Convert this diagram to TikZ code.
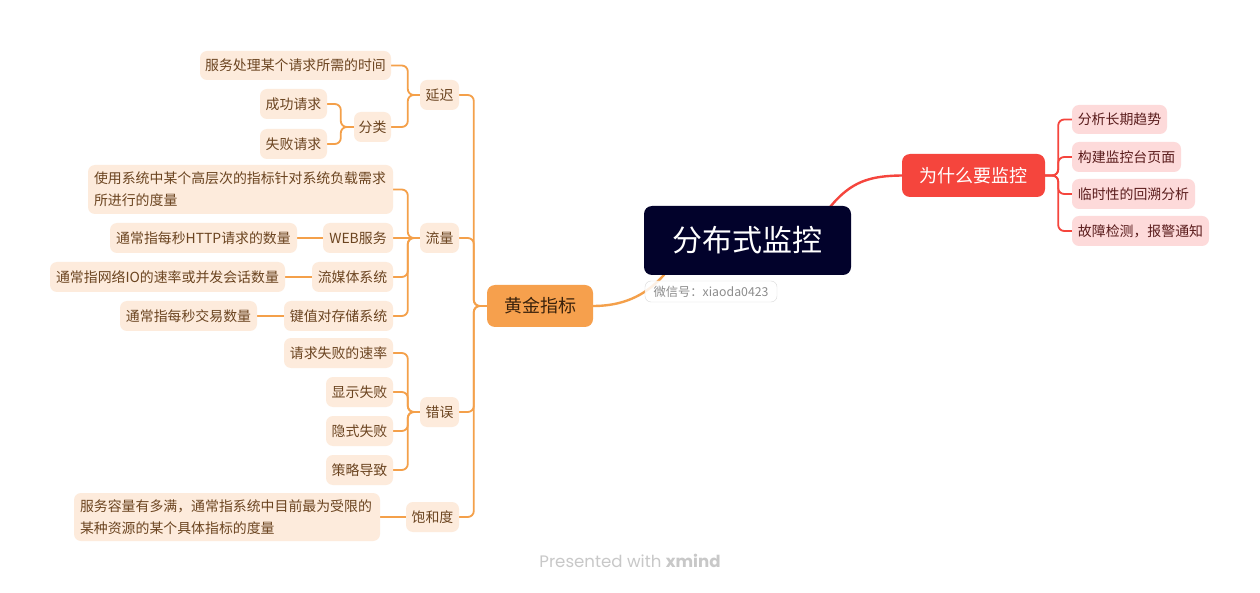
\documentclass[tikz,border=0pt]{standalone}
\usepackage{fontspec}
\setmainfont{Noto Sans CJK SC}
\newfontfamily\footfont{Poppins}
\usetikzlibrary{backgrounds}
\definecolor{navy}{HTML}{02022B}
\definecolor{redm}{HTML}{F5453D}
\definecolor{pinkf}{HTML}{FDDADA}
\definecolor{pinkt}{HTML}{5A1C1C}
\definecolor{goldf}{HTML}{F6A04D}
\definecolor{goldt}{HTML}{3A220C}
\definecolor{peachf}{HTML}{FDEBDC}
\definecolor{peacht}{HTML}{6B4420}
\definecolor{oline}{HTML}{F4A04A}
\definecolor{footg}{HTML}{C8C8C8}
\begin{document}
\begin{tikzpicture}[x=1pt,y=-1pt,
  box/.style={rounded corners=7pt, inner sep=0pt, minimum height=30pt, font=\fontsize{13.9}{22}\selectfont},
  lvl/.style={box, fill=peachf, text=peacht},
  pk/.style={box, fill=pinkf, text=pinkt},
  oconn/.style={draw=oline, line width=1.8pt, rounded corners=6pt},
  rconn/.style={draw=redm, line width=1.8pt, rounded corners=6pt}]
\useasboundingbox (0,0) rectangle (1260,593);

% central
\node[fill=navy, text=white, rounded corners=8pt, minimum width=207pt, minimum height=69pt, inner sep=0pt, font=\fontsize{30}{36}\selectfont] (main) at (747.5,240.5) {分布式监控};
\node[draw=black!15, fill=white, fill opacity=0.85, text opacity=1, text=black!45, rounded corners=6pt, minimum width=132pt, minimum height=21pt, inner sep=0pt, font=\fontsize{12.3}{14}\selectfont] (wm) at (711,291.5) {微信号：xiaoda0423};

% right branch
\node[fill=redm, text=white, rounded corners=8pt, minimum width=143pt, minimum height=43pt, inner sep=0pt, font=\fontsize{18}{22}\selectfont] (why) at (973.5,175.5) {为什么要监控};
\node[pk, minimum width=95pt, minimum height=29pt] (r1) at (1119.5,119.5) {分析长期趋势};
\node[pk, minimum width=109pt] (r2) at (1126.5,157) {构建监控台页面};
\node[pk, minimum width=123pt] (r3) at (1133.5,194) {临时性的回溯分析};
\node[pk, minimum width=137pt] (r4) at (1140.5,231) {故障检测，报警通知};

% left branch
\node[fill=goldf, text=goldt, rounded corners=8pt, minimum width=106pt, minimum height=42pt, inner sep=0pt, font=\fontsize{18}{22}\selectfont] (gold) at (540,306) {黄金指标};
\node[lvl, minimum width=39pt] (yc) at (439.5,95) {延迟};
\node[lvl, minimum width=39pt] (ll) at (439.5,238) {流量};
\node[lvl, minimum width=39pt] (cw) at (439.5,412) {错误};
\node[lvl, minimum width=53pt] (bh) at (432.5,517) {饱和度};

\node[lvl, minimum width=191pt, minimum height=29pt] (yc1) at (295.5,65.5) {服务处理某个请求所需的时间};
\node[lvl, minimum width=37pt] (fl) at (372.5,127) {分类};
\node[lvl, minimum width=67pt] (cg) at (293.5,104) {成功请求};
\node[lvl, minimum width=67pt] (sb) at (293.5,144) {失败请求};

\node[lvl, minimum width=305pt, minimum height=49pt, align=left, text width=293pt] (ll1) at (240.5,189.5) {使用系统中某个高层次的指标针对系统负载需求\\所进行的度量};
\node[lvl, minimum width=70pt] (web) at (358,238) {WEB服务};
\node[lvl, minimum width=187pt] (http) at (203.5,238) {通常指每秒HTTP请求的数量};
\node[lvl, minimum width=81pt] (lmt) at (352.5,277) {流媒体系统};
\node[lvl, minimum width=235pt] (io) at (167.5,277) {通常指网络IO的速率或并发会话数量};
\node[lvl, minimum width=109pt] (kv) at (338.5,316) {键值对存储系统};
\node[lvl, minimum width=137pt] (tps) at (188.5,316) {通常指每秒交易数量};

\node[lvl, minimum width=109pt] (e1) at (338.5,353) {请求失败的速率};
\node[lvl, minimum width=67pt] (e2) at (359.5,392) {显示失败};
\node[lvl, minimum width=67pt] (e3) at (359.5,431) {隐式失败};
\node[lvl, minimum width=67pt] (e4) at (359.5,470) {策略导致};

\node[lvl, minimum width=306pt, minimum height=48pt, align=left, text width=294pt] (bh1) at (227,517) {服务容量有多满，通常指系统中目前最为受限的\\某种资源的某个具体指标的度量};

% footer
\node[text=footg, font=\footfont\fontsize{16.6}{18}\selectfont] (foot) at (630,561) {Presented with \textbf{xmind}};

\begin{scope}[on background layer]
\fill[white] (0,0) rectangle (1260,593);
\draw[redm, line width=2.4pt] ([xshift=60pt]main.center) .. controls (840,185) and (860,176) .. (why.west);
\draw[oline, line width=2.4pt] ([xshift=-57.5pt,yshift=10.5pt]main.center) .. controls (670,280) and (640,306) .. (gold.east);
\foreach \c in {r1,r2,r3,r4}
  \draw[rconn] (\c.west) -| ([xshift=13pt]why.east) -- (why.east);
\foreach \c in {yc,ll,cw,bh}
  \draw[oconn] (\c.east) -| ([xshift=-13pt]gold.west) -- (gold.west);
\foreach \c in {yc1,fl}
  \draw[oconn] (\c.east) -| ([xshift=-12pt]yc.west) -- (yc.west);
\foreach \c in {cg,sb}
  \draw[oconn] (\c.east) -| ([xshift=-13pt]fl.west) -- (fl.west);
\foreach \c in {ll1,lmt,kv}
  \draw[oconn] (\c.east) -| ([xshift=-12pt]ll.west) -- (ll.west);
\draw[oconn] (web.east) -- (ll.west);
\foreach \c in {e1,e2,e3,e4}
  \draw[oconn] (\c.east) -| ([xshift=-12pt]cw.west) -- (cw.west);
\draw[oconn] (http.east) -- (web.west);
\draw[oconn] (io.east) -- (lmt.west);
\draw[oconn] (tps.east) -- (kv.west);
\draw[oconn] (bh1.east) -- (bh.west);
\end{scope}
\end{tikzpicture}
\end{document}
